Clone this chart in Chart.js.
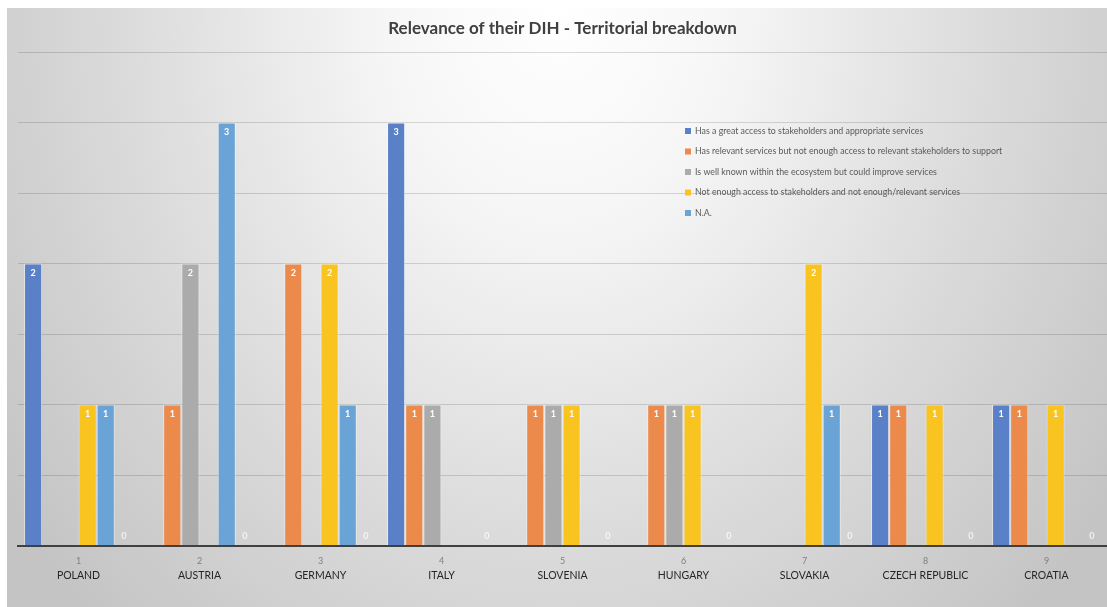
<!DOCTYPE html>
<html>
<head>
<meta charset="utf-8">
<script src="https://cdn.jsdelivr.net/npm/chart.js@4"></script>
<style>
  html, body { margin: 0; padding: 0; background: #ffffff; }
  #wrap {
    position: absolute; left: 7px; top: 8px; width: 1100px; height: 599px;
    background: radial-gradient(ellipse 62% 140% at 50% 0%, #ffffff 0%, #f6f6f6 25%, #dcdcdc 62%, #c4c4c4 100%);
  }
  canvas { display: block; }
</style>
</head>
<body>
<div id="wrap"><canvas id="c" width="1100" height="599"></canvas></div>
<script>
const categories = ['1', '2', '3', '4', '5', '6', '7', '8', '9'];
const countries = ['POLAND', 'AUSTRIA', 'GERMANY', 'ITALY', 'SLOVENIA', 'HUNGARY', 'SLOVAKIA', 'CZECH REPUBLIC', 'CROATIA'];
const seriesNames = [
  'Has a great access to stakeholders and appropriate services',
  'Has relevant services but not enough access to relevant stakeholders to support',
  'Is well known within the ecosystem but could improve services',
  'Not enough access to stakeholders and not enough/relevant services',
  'N.A.'
];
const greatAccess      = [2, null, null, 3, null, null, null, 1, 1];
const relevantServices = [null, 1, 2, 1, 1, 1, null, 1, 1];
const wellKnown        = [null, 2, null, 1, 1, 1, null, null, null];
const notEnough        = [1, null, 2, null, 1, 1, 2, 1, 1];
const notAvailable     = [1, 3, 1, null, null, null, 1, null, null];
const zeroSeries       = [0, 0, 0, 0, 0, 0, 0, 0, 0];
const yTicks = [0, 0.5, 1, 1.5, 2, 2.5, 3, 3.5];

const colors = ['#5a80c8', '#eb8a4b', '#ababab', '#f9c320', '#6aa4d7'];
const seriesValues = [greatAccess, relevantServices, wellKnown, notEnough, notAvailable];

const datasets = seriesValues.map((vals, i) => ({
  label: seriesNames[i],
  data: vals,
  backgroundColor: colors[i],
  borderColor: 'rgba(255,255,255,0.45)',
  borderWidth: 1,
  borderSkipped: 'bottom'
}));
datasets.push({ label: '', data: zeroSeries, backgroundColor: 'rgba(0,0,0,0)', borderWidth: 0, isZero: true });

const labelPlugin = {
  id: 'valueLabels',
  afterDatasetsDraw(chart) {
    const ctx = chart.ctx;
    ctx.save();
    ctx.font = 'bold 9px Lato';
    ctx.textAlign = 'center';
    ctx.textBaseline = 'middle';
    chart.data.datasets.forEach((ds, di) => {
      const meta = chart.getDatasetMeta(di);
      meta.data.forEach((el, i) => {
        const v = ds.data[i];
        if (v === null || v === undefined) return;
        if (ds.isZero) {
          ctx.fillStyle = 'rgba(255,255,255,0.75)';
          ctx.fillText(String(v), el.x, el.y - 10);
        } else {
          ctx.fillStyle = '#ffffff';
          ctx.fillText(String(v), el.x, el.y + 10);
        }
      });
    });
    ctx.restore();
  }
};

const legendPlugin = {
  id: 'innerLegend',
  afterDatasetsDraw(chart) {
    const ctx = chart.ctx;
    ctx.save();
    ctx.font = '8.8px Lato';
    ctx.textAlign = 'left';
    ctx.textBaseline = 'middle';
    const x0 = 678, y0 = 123, step = 20.5;
    seriesNames.forEach((name, i) => {
      const y = y0 + i * step;
      ctx.fillStyle = colors[i];
      ctx.fillRect(x0, y - 3, 6, 6);
      ctx.fillStyle = '#595959';
      ctx.fillText(name, x0 + 10, y);
    });
    ctx.restore();
  }
};

new Chart(document.getElementById('c'), {
  type: 'bar',
  data: { labels: categories, datasets },
  options: {
    responsive: false,
    animation: false,
    layout: { padding: { left: 11, right: 0, top: 0, bottom: 24 } },
    datasets: { bar: { categoryPercentage: 0.9, barPercentage: 1.0 } },
    plugins: {
      legend: { display: false },
      tooltip: { enabled: false },
      title: {
        display: true,
        text: 'Relevance of their DIH - Territorial breakdown',
        color: '#404040',
        font: { family: 'Lato', size: 17, weight: 'bold' },
        padding: { top: 10, bottom: 13.6 }
      }
    },
    scales: {
      x: {
        position: 'bottom',
        weight: 0,
        grid: { display: false },
        border: { display: true, color: '#404040', width: 2 },
        ticks: { color: '#808080', font: { family: 'Lato', size: 9 }, padding: 2 }
      },
      x2: {
        type: 'category',
        labels: countries,
        position: 'bottom',
        weight: 1,
        grid: { display: false, drawTicks: false },
        border: { display: false },
        ticks: { color: '#262626', font: { family: 'Lato', size: 10.5 }, padding: 1 }
      },
      y: {
        min: 0,
        max: 3.5,
        afterBuildTicks(scale) { scale.ticks = yTicks.map(v => ({ value: v })); },
        grid: { color: 'rgba(0,0,0,0.14)', lineWidth: 1, drawTicks: false },
        border: { display: false },
        ticks: { display: false }
      }
    }
  },
  plugins: [labelPlugin, legendPlugin]
});
</script>
</body>
</html>
